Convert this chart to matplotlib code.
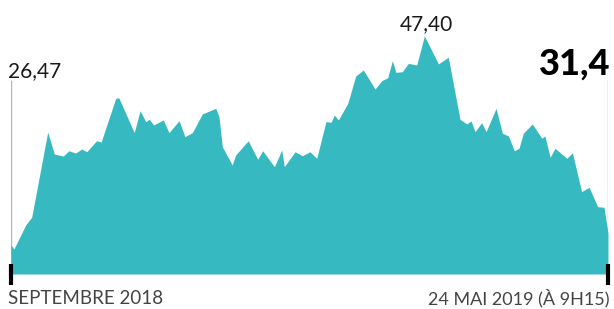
import matplotlib
matplotlib.use('Agg')
import matplotlib.pyplot as plt

# cours de l'action, jours depuis le 1er septembre 2018
jours = [0, 1.3, 6.5, 9.2, 16.3, 19.2, 23.2, 25.7, 28.7, 31.4, 33.6, 38.0, 40.0,
         46.5, 47.9, 54.7, 57.3, 59.8, 61.4, 63.3, 67.6, 70.1, 74.6, 77.2, 80.5,
         84.9, 90.9, 92.3, 93.8, 98.2, 99.7, 105.3, 109.5, 111.7, 116.9, 120.2,
         121.3, 126.1, 129.3, 132.7, 135.7, 139.8, 142.1, 143.5, 145.3, 149.5,
         153.0, 156.4, 161.6, 164.6, 167.2, 169.3, 170.8, 173.7, 176.4, 180.1,
         183.5, 189.7, 194.1, 199.3, 202.3, 204.2, 206.0, 208.9, 210.9, 215.3,
         218.1, 220.8, 223.4, 225.5, 227.4, 231.4, 235.6, 237.0, 239.3, 241.5,
         246.7, 249.2, 253.3, 256.6, 260.4, 263.2, 265]
cours = [26.47, 26.07, 28.47, 29.27, 37.79, 35.58, 35.38, 35.91, 35.68, 36.08,
         35.81, 36.91, 36.78, 41.16, 41.19, 37.72, 39.92, 38.82, 39.06, 38.49,
         38.99, 37.72, 38.92, 37.32, 37.72, 39.59, 40.16, 39.32, 36.31, 34.48,
         35.48, 36.91, 35.05, 35.91, 34.31, 35.98, 34.31, 35.81, 35.41, 35.81,
         35.15, 38.82, 38.76, 39.49, 38.99, 40.66, 43.39, 43.99, 42.09, 42.92,
         43.22, 44.93, 43.76, 43.82, 44.66, 44.49, 47.40, 44.60, 45.27, 39.06,
         38.59, 38.89, 37.82, 38.72, 37.82, 40.16, 37.66, 37.39, 35.91, 36.15,
         37.66, 38.59, 37.16, 37.39, 35.25, 36.15, 35.15, 35.71, 31.81, 32.25,
         30.31, 30.25, 27.67]

label_debut = '26,47'
label_max = '47,40'
label_fin = '31,4'
date_debut = 'SEPTEMBRE 2018'
date_fin = '24 MAI 2019 (À 9H15)'

W, H = 614, 309
plt.rcParams['font.family'] = ['Lato', 'DejaVu Sans']

fig = plt.figure(figsize=(W / 100, H / 100), dpi=100)
ax = fig.add_axes([11 / W, 35 / H, 597 / W, 274 / H])
ax.set_xlim(0, 265)
ax.set_ylim(23.57, 51.0)
ax.axis('off')

teal = '#36b9c1'
ax.fill_between(jours, cours, 23.57, color=teal, lw=0, zorder=2)

# traits gris reliant les valeurs
ax.axvline(jours[0], 0, 0.704, color='#b5b5b5', lw=1, zorder=1)
ax.axvline(jours[-1], 0, 0.708, color='#b5b5b5', lw=1, zorder=1)

# petites graduations noires
tr = ax.get_xaxis_transform()
for xd in (jours[0], jours[-1]):
    ax.plot([xd, xd], [-0.04, 0.037], color='black', lw=3, transform=tr,
            clip_on=False, zorder=3, solid_capstyle='butt')


def fx(px):
    return px / W


def fy(py):
    return 1 - py / H


fig.text(fx(8), fy(77), label_debut, fontsize=15, color='#1a1a1a',
         ha='left', va='baseline')
fig.text(fx(426.5), fy(30), label_max, fontsize=15, color='#1a1a1a',
         ha='center', va='baseline')
fig.text(fx(610), fy(75), label_fin, fontsize=26, fontweight='black',
         color='black', ha='right', va='baseline')
fig.text(fx(8), fy(304), date_debut, fontsize=13.5, color='#444444',
         ha='left', va='baseline')
fig.text(fx(610), fy(304), date_fin, fontsize=13, color='#444444',
         ha='right', va='baseline')

fig.savefig('out.png', dpi=100, facecolor='white')
